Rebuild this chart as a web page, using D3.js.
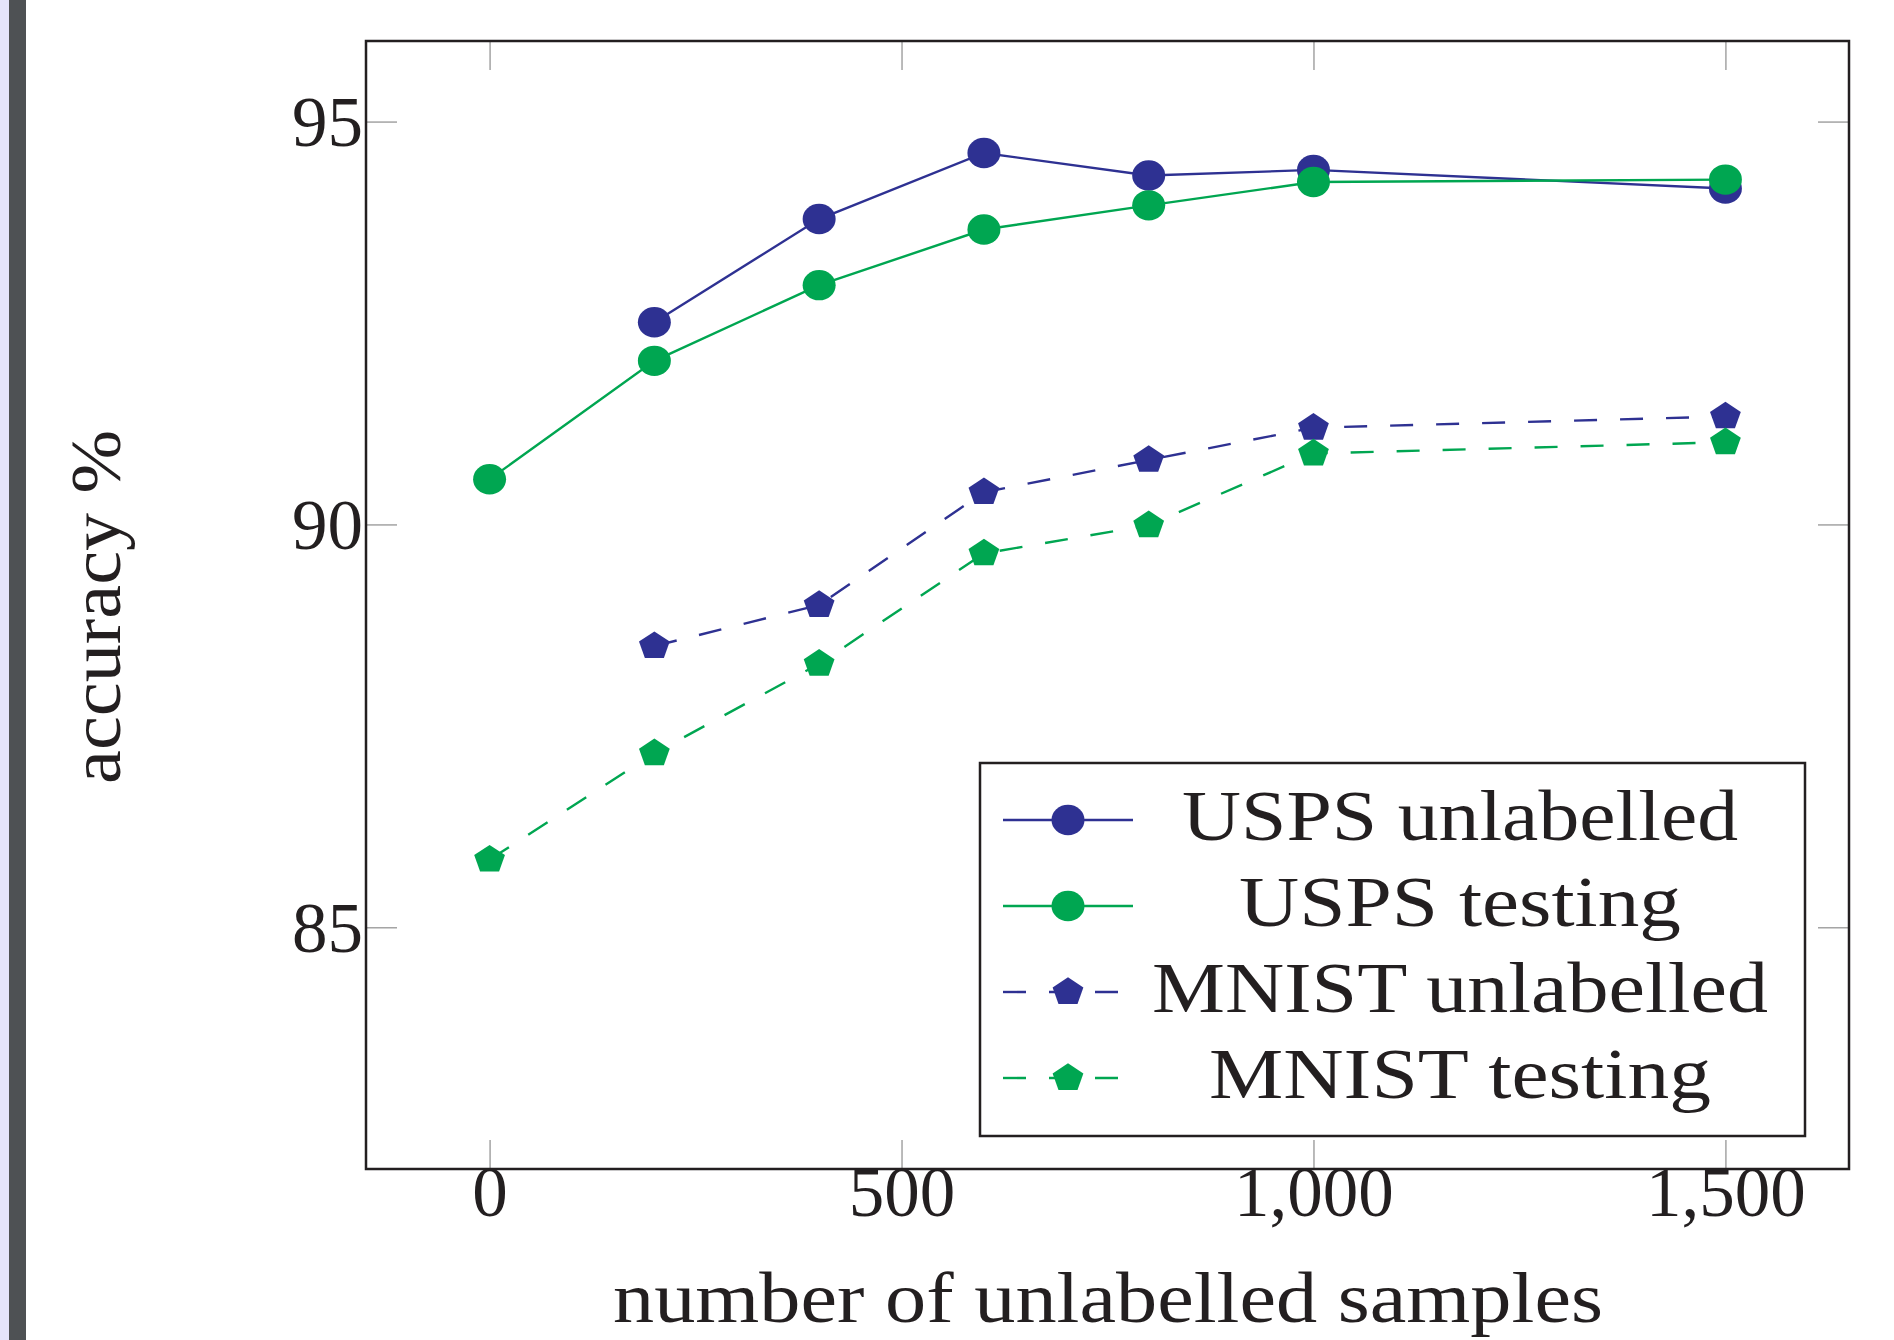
<!DOCTYPE html>
<html>
<head>
<meta charset="utf-8">
<script src="https://cdn.jsdelivr.net/npm/d3@7"></script>
<style>
  body { margin: 0; background: #fff; }
  svg { display: block; }
  text { font-family: "Liberation Serif", "Times New Roman", serif; fill: #231f20; }
</style>
</head>
<body>
<svg width="1894" height="1340"></svg>
<script>
// data
var samples = [0, 200, 400, 600, 800, 1000, 1500];
var uspsUnlabelled = [null, 92.51, 93.79, 94.61, 94.33, 94.40, 94.17];
var uspsTesting = [90.56, 92.03, 92.97, 93.66, 93.96, 94.25, 94.28];
var mnistUnlabelled = [null, 88.49, 89.00, 90.40, 90.80, 91.20, 91.34];
var mnistTesting = [85.84, 87.16, 88.27, 89.64, 89.99, 90.88, 91.02];

var seriesNames = ["USPS unlabelled", "USPS testing", "MNIST unlabelled", "MNIST testing"];
var xTicks = [0, 500, 1000, 1500];
var yTicks = [85, 90, 95];

var blue = "#2e3192", green = "#00a651";

var series = [
  {name: seriesNames[0], values: uspsUnlabelled, color: blue, mark: "circle", dash: null},
  {name: seriesNames[1], values: uspsTesting, color: green, mark: "circle", dash: null},
  {name: seriesNames[2], values: mnistUnlabelled, color: blue, mark: "pentagon", dash: "23 23"},
  {name: seriesNames[3], values: mnistTesting, color: green, mark: "pentagon", dash: "23 23"}
];

// plot frame (names chosen so they don't clash with window.top)
var svg = d3.select("svg"),
    plotLeft = 366, plotRight = 1849, plotTop = 41, plotBottom = 1169;

// strip at the left edge of the page
svg.append("rect").attr("x", 0).attr("y", 0).attr("width", 9).attr("height", 1340).attr("fill", "#e4e4fb");
svg.append("rect").attr("x", 9).attr("y", 0).attr("width", 17).attr("height", 1340).attr("fill", "#4e5154");

var x = d3.scaleLinear().domain([-150, 1650]).range([plotLeft, plotRight]),
    y = d3.scaleLinear().domain([82, 96]).range([plotBottom, plotTop]);

// ticks on all four sides, pointing inside
function styleAxis(g) {
  g.select(".domain").remove();
  g.selectAll(".tick line").attr("stroke", "#9d9d9d").attr("stroke-width", 1.4);
  g.selectAll(".tick text").style("font-size", "71px").attr("fill", "#231f20");
}

svg.append("g")
    .attr("transform", "translate(0," + plotBottom + ")")
    .call(d3.axisBottom(x).tickValues(xTicks).tickFormat(d3.format(",")).tickSizeInner(-29).tickSizeOuter(0))
    .call(styleAxis)
    .selectAll(".tick text").attr("y", 47).attr("dy", null);

svg.append("g")
    .attr("transform", "translate(0," + plotTop + ")")
    .call(d3.axisTop(x).tickValues(xTicks).tickFormat("").tickSizeInner(-29).tickSizeOuter(0))
    .call(styleAxis);

svg.append("g")
    .attr("transform", "translate(" + plotLeft + ",0)")
    .call(d3.axisLeft(y).tickValues(yTicks).tickSizeInner(-31).tickSizeOuter(0).tickPadding(3))
    .call(styleAxis)
    .selectAll(".tick text").attr("dy", "0.34em");

svg.append("g")
    .attr("transform", "translate(" + plotRight + ",0)")
    .call(d3.axisRight(y).tickValues(yTicks).tickFormat("").tickSizeInner(-31).tickSizeOuter(0))
    .call(styleAxis);

// frame
svg.append("rect")
    .attr("x", plotLeft).attr("y", plotTop)
    .attr("width", plotRight - plotLeft).attr("height", plotBottom - plotTop)
    .attr("fill", "none").attr("stroke", "#231f20").attr("stroke-width", 2.5);

// markers
function pentagon(r, sx) {
  var pts = d3.range(5).map(function(i) {
    var a = -Math.PI / 2 + i * 2 * Math.PI / 5;
    return [Math.cos(a) * r * sx, Math.sin(a) * r];
  });
  return "M" + pts.join("L") + "Z";
}

function drawMark(g, s, cx, cy) {
  if (s.mark == "circle") {
    g.append("ellipse").attr("cx", cx).attr("cy", cy).attr("rx", 16.5).attr("ry", 15.2).attr("fill", s.color);
  } else {
    g.append("path").attr("d", pentagon(14.7, 1.1))
      .attr("transform", "translate(" + cx + "," + cy + ")").attr("fill", s.color);
  }
}

var line = d3.line()
    .defined(function(d) { return d[1] != null; })
    .x(function(d) { return x(d[0]); })
    .y(function(d) { return y(d[1]); });

series.forEach(function(s) {
  var pts = samples.map(function(v, i) { return [v, s.values[i]]; });
  var g = svg.append("g");
  g.append("path")
    .attr("d", line(pts))
    .attr("fill", "none")
    .attr("stroke", s.color)
    .attr("stroke-width", 2.4)
    .attr("stroke-dasharray", s.dash);
  pts.filter(function(d) { return d[1] != null; }).forEach(function(d) {
    drawMark(g, s, x(d[0]), y(d[1]));
  });
});

// legend
var legend = svg.append("g");
legend.append("rect")
    .attr("x", 980).attr("y", 763).attr("width", 825).attr("height", 373)
    .attr("fill", "#fff").attr("stroke", "#231f20").attr("stroke-width", 2.5);

var legendWidths = [556, 442, 616, 502];
series.forEach(function(s, i) {
  var ly = 820 + i * 86;
  legend.append("line")
    .attr("x1", 1003).attr("x2", 1133).attr("y1", ly).attr("y2", ly)
    .attr("stroke", s.color).attr("stroke-width", 2.4)
    .attr("stroke-dasharray", s.dash);
  drawMark(legend, s, 1068, ly);
  legend.append("text")
    .attr("x", 1460).attr("y", ly + 20)
    .attr("text-anchor", "middle")
    .attr("textLength", legendWidths[i])
    .attr("lengthAdjust", "spacingAndGlyphs")
    .style("font-size", "71px")
    .text(s.name);
});

// axis titles
svg.append("text")
    .attr("x", 1108).attr("y", 1322)
    .attr("text-anchor", "middle")
    .attr("textLength", 990)
    .attr("lengthAdjust", "spacingAndGlyphs")
    .style("font-size", "71px")
    .text("number of unlabelled samples");

svg.append("text")
    .attr("transform", "translate(120,607) rotate(-90)")
    .attr("text-anchor", "middle")
    .attr("textLength", 354)
    .attr("lengthAdjust", "spacingAndGlyphs")
    .style("font-size", "71px")
    .text("accuracy %");
</script>
</body>
</html>
